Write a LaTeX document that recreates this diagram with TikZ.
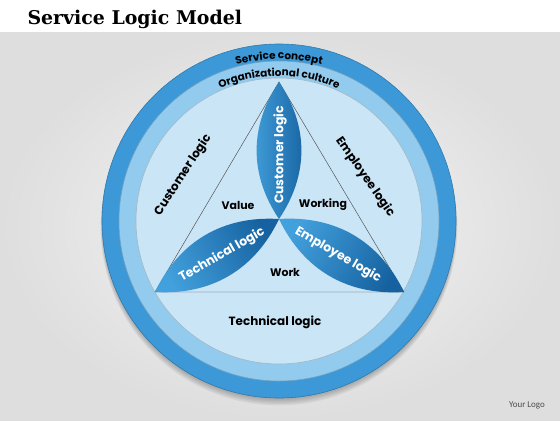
\documentclass[tikz,border=0pt]{standalone}
\usepackage{fontspec}
\setmainfont{Poppins}
\newfontfamily\titlefont{DejaVu Serif}
\newfontfamily\logofont{Carlito}
\usetikzlibrary{calc,positioning,decorations.text}
\definecolor{ringout}{RGB}{60,152,215}
\definecolor{ringmid}{RGB}{146,203,238}
\definecolor{ringin}{RGB}{202,229,246}
\definecolor{petaldark}{RGB}{22,98,160}
\definecolor{petallight}{RGB}{66,160,220}
\definecolor{bgdark}{RGB}{222,222,222}
\definecolor{bglight}{RGB}{246,246,246}
\tikzset{
diagram/.style={x=1bp,y=1bp},
ring/.style={draw=#1!80!black,line width=0.6bp,fill=#1},
petal/.style={left color=petallight,right color=petaldark,shading angle=#1},
tri/.style={draw=black!70,line width=0.45bp},
heading/.style={font=\titlefont\fontsize{19}{22}\selectfont\bfseries},
logic/.style={font=\fontsize{12}{12}\selectfont\bfseries,rotate=#1},
logic/.default={0},
petal label/.style={font=\fontsize{12.5}{13}\selectfont\bfseries,text=white,rotate=#1},
field/.style={font=\fontsize{11}{12}\selectfont\bfseries},
ringtext/.style={decorate,decoration={text along path,text align=center,
    text={|\fontsize{10.5}{12}\selectfont\bfseries|#1}}},
}

\begin{document}
\begin{tikzpicture}[diagram]
    \useasboundingbox (0,0) rectangle (560,420);
    \fill[white] (0,388) rectangle (560,420);
    \shade[inner color=bglight,outer color=bgdark] (0,0) rectangle (560,388);

    \coordinate (ctr) at (279,199);
    \coordinate (apex) at (279,338);
    \coordinate (lcorner) at (155,128);
    \coordinate (rcorner) at (404,128);
    \coordinate (hub) at (279,201);

    \foreach \s in {1,...,6}
        \fill[black,opacity=0.05] ($(ctr)+(0,-\s)$) circle[radius=176+0.4*\s];
    \path[ring=ringout] (ctr) circle[radius=177];
    \path[ring=ringmid] (ctr) circle[radius=160];
    \path[ring=ringin] (ctr) circle[radius=143];

    \path[ringtext={Service concept}]
        ($(ctr)+(125:162)$) arc[start angle=125,end angle=55,radius=162];
    \path[ringtext={Organizational culture}]
        ($(ctr)+(130:145)$) arc[start angle=130,end angle=50,radius=145];

    \draw[tri] (apex) -- (lcorner) -- (rcorner) -- cycle;

    \path[petal=90] (apex) to[bend left=34] (hub) to[bend left=34] (apex);
    \path[petal=120] (lcorner) to[bend left=34] (hub) to[bend left=34] (lcorner);
    \path[petal=60] (rcorner) to[bend left=34] (hub) to[bend left=34] (rcorner);

    \node[heading,anchor=west] (title) at (24,401) {Service Logic Model};

    \node[logic=57] (custouter) at (183,245) {Customer logic};
    \node[logic=-55] (emplouter) at (365,243) {Employee logic};
    \node[logic] (techouter) at (275,98) {Technical logic};

    \node[petal label=90] (custpetal) at (280,265) {Customer logic};
    \node[petal label=30] (techpetal) at (222,165) {Technical logic};
    \node[petal label=-30] (emplpetal) at (338,165) {Employee logic};

    \node[field] (value) at (238,215) {Value};
    \node[field] (working) at (323,215) {Working};
    \node[field] (work) at (285,148) {Work};

    \node (logo) [font=\logofont\fontsize{9}{10}\selectfont,text=black!70]
        at (527,15) {Your Logo};
\end{tikzpicture}
\end{document}
